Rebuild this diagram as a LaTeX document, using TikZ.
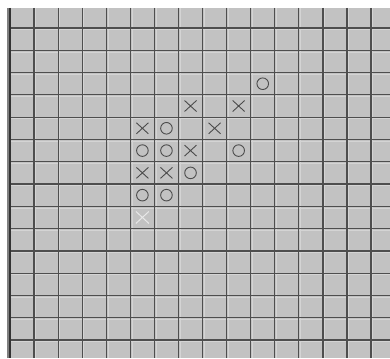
\documentclass[tikz,border=0pt]{standalone}
\definecolor{bg}{RGB}{194,194,194}
\definecolor{gline}{RGB}{78,78,78}
\definecolor{hl}{RGB}{212,212,212}
\definecolor{mark}{RGB}{75,75,75}
\definecolor{lightmark}{RGB}{232,232,232}
\begin{document}
\begin{tikzpicture}[x=1pt,y=-1pt,
  gridline/.style={line width=1.25pt,color=gline},
  hiline/.style={line width=0.7pt,color=hl},
  xstroke/.style={line width=0.9pt,color=mark},
  ostroke/.style={line width=0.9pt,color=mark},
  xlight/.style={line width=1pt,color=lightmark}]
\useasboundingbox (0,0) rectangle (390,358);
\fill[white] (0,0) rectangle (390,358);
\fill[bg] (7,8) rectangle (390,358);
% highlights
\foreach \k in {1,...,15} \draw[hiline] ({10+24.07*\k+1.6},8) -- ({10+24.07*\k+1.6},358);
\foreach \j in {1,...,15} \draw[hiline] (10,{5.7+22.29*\j+1.6}) -- (390,{5.7+22.29*\j+1.6});
% grid lines
\foreach \k in {1,...,15} \draw[gridline] ({10+24.07*\k},8) -- ({10+24.07*\k},358);
\foreach \j in {1,...,15} \draw[gridline] (10,{5.7+22.29*\j}) -- (390,{5.7+22.29*\j});
% left border
\fill[black!50] (7,8) rectangle (9,358);
\draw[line width=1.8pt,color=black!80] (10,8) -- (10,358);
% crosses
\foreach \c/\r in {7/4,9/4,5/5,8/5,7/6,5/7,6/7}
  \draw[xstroke] ({10+24.07*(\c+0.5)-6},{5.7+22.29*(\r+0.5)-5.5}) -- ({10+24.07*(\c+0.5)+6},{5.7+22.29*(\r+0.5)+5.5})
                 ({10+24.07*(\c+0.5)-6},{5.7+22.29*(\r+0.5)+5.5}) -- ({10+24.07*(\c+0.5)+6},{5.7+22.29*(\r+0.5)-5.5});
% circles
\foreach \c/\r in {10/3,6/5,5/6,6/6,9/6,7/7,5/8,6/8}
  \draw[ostroke] ({10+24.07*(\c+0.5)},{5.7+22.29*(\r+0.5)}) circle (5.8);
% light cross
\foreach \c/\r in {5/9}
  \draw[xlight] ({10+24.07*(\c+0.5)-6.5},{5.7+22.29*(\r+0.5)-6}) -- ({10+24.07*(\c+0.5)+6.5},{5.7+22.29*(\r+0.5)+6})
                ({10+24.07*(\c+0.5)-6.5},{5.7+22.29*(\r+0.5)+6}) -- ({10+24.07*(\c+0.5)+6.5},{5.7+22.29*(\r+0.5)-6});
\end{tikzpicture}
\end{document}
